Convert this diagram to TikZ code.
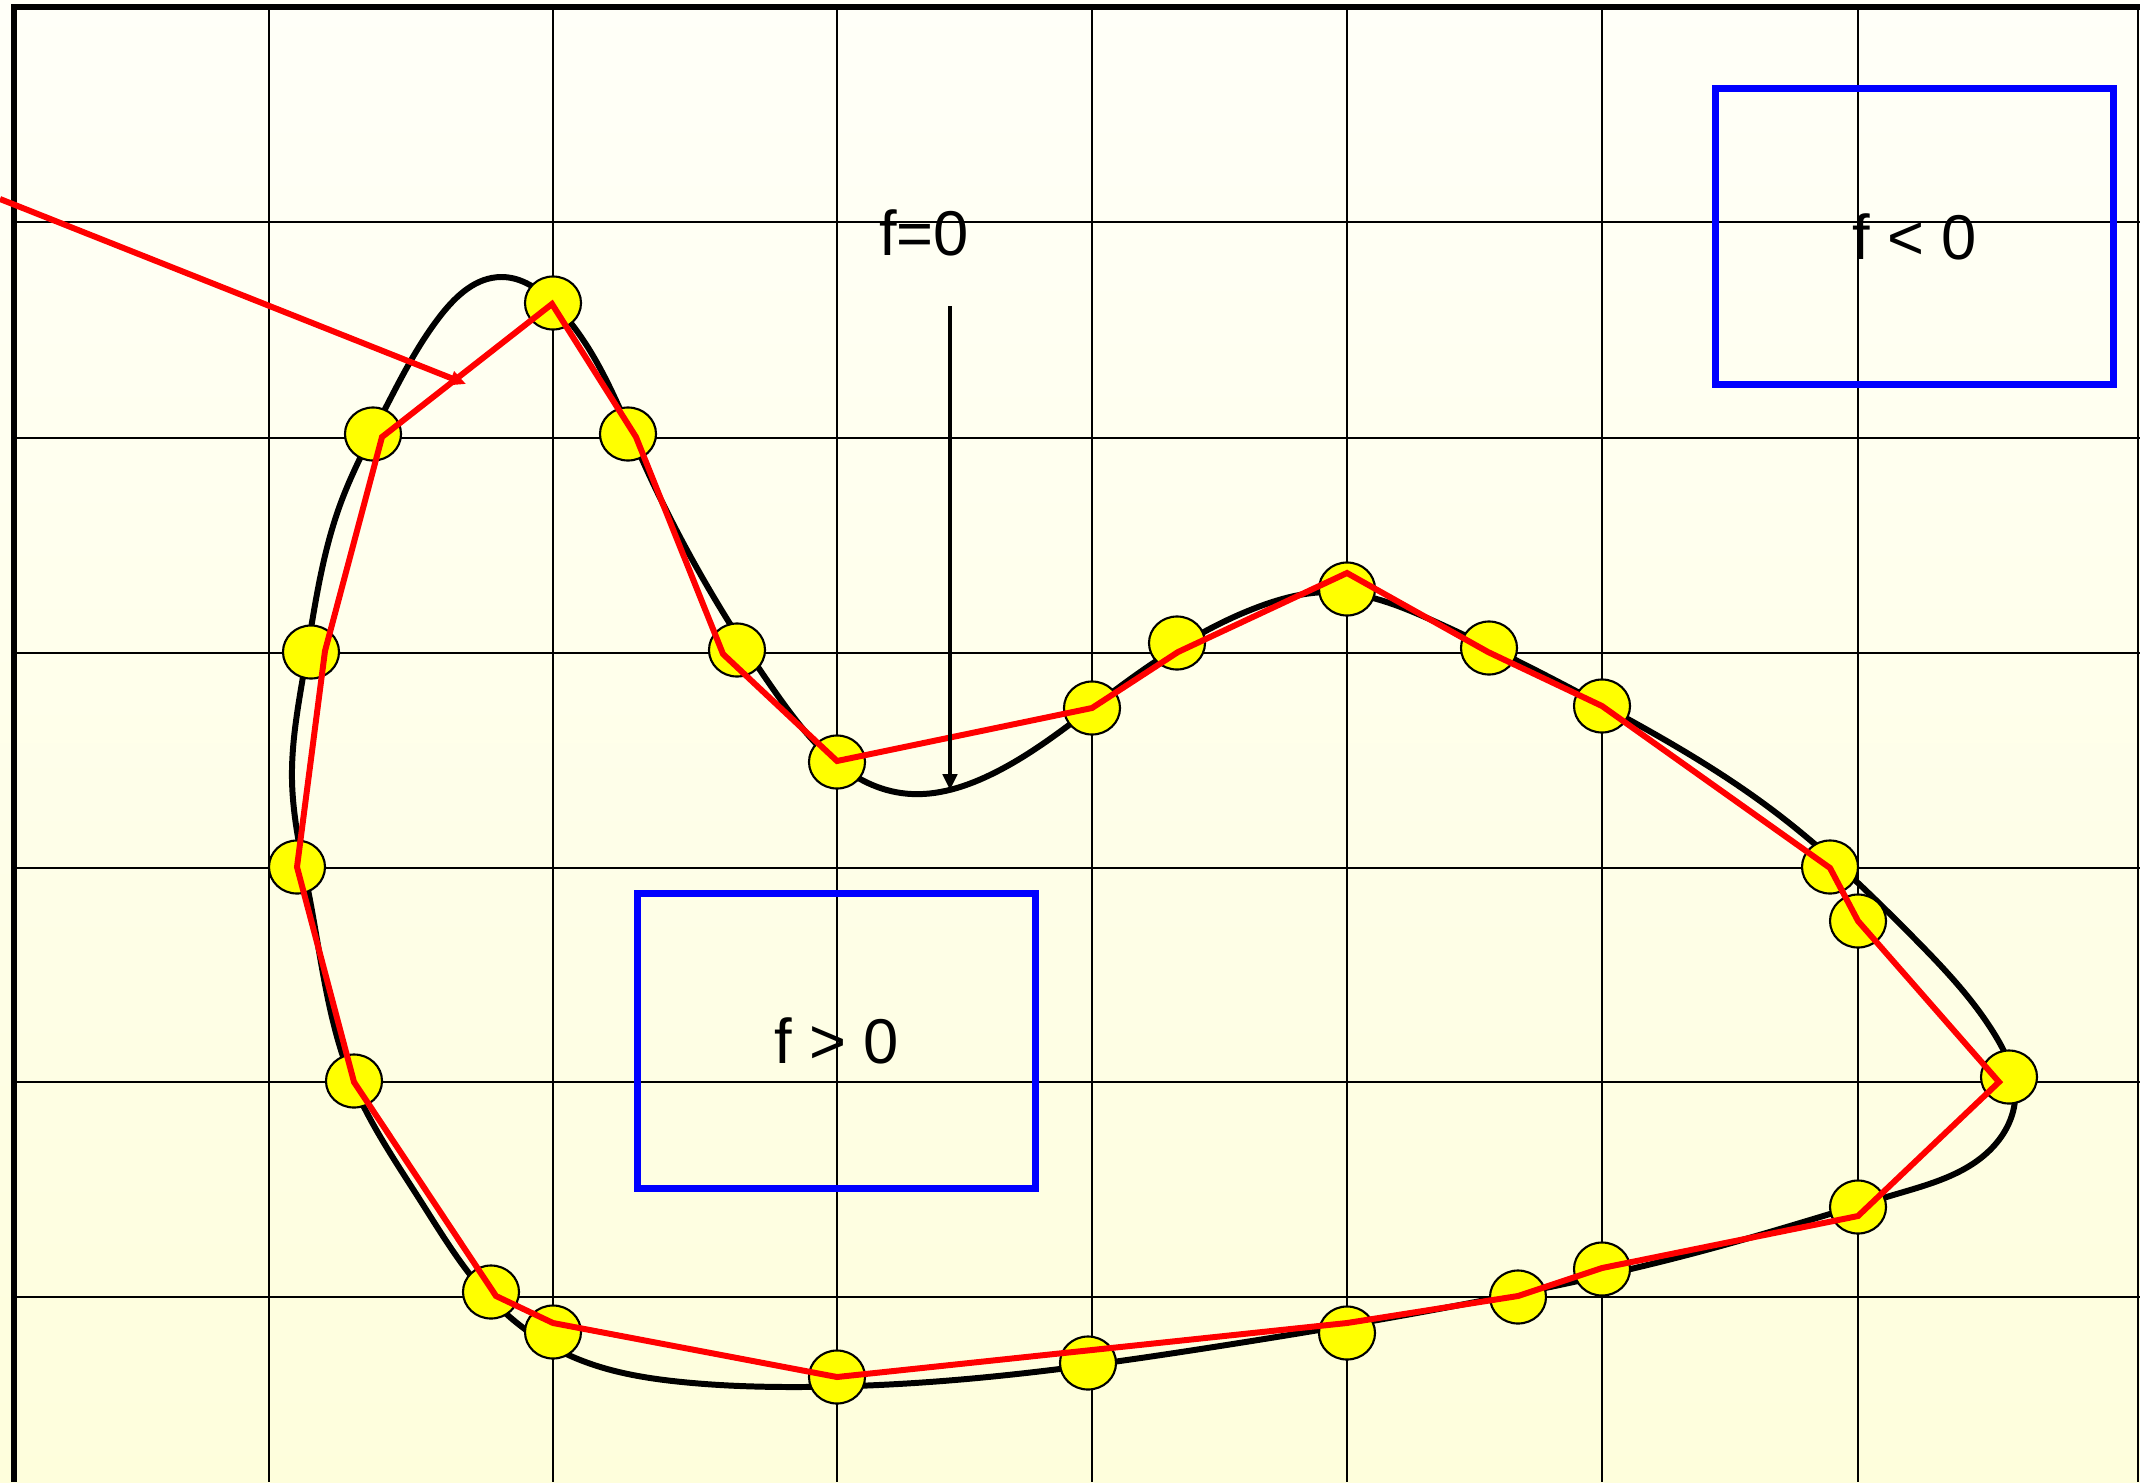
\documentclass[tikz,border=0pt]{standalone}
\usepackage{fontspec}
\setmainfont{Liberation Sans}
\usepackage{tikz}
\usetikzlibrary{arrows.meta,shapes.geometric,hobby}
\definecolor{paper}{HTML}{FFFFF8}
\definecolor{paperlow}{HTML}{FEFEDC}
\definecolor{dotfill}{HTML}{FFFF00}
\definecolor{polyred}{HTML}{FF0000}
\definecolor{zone}{HTML}{0000FF}

\begin{document}
\begin{tikzpicture}[x=0.01cm, y=-0.01cm,
  gridline/.style={black, line width=0.6pt},
  curve/.style={black, line width=1.7pt},
  sample/.style={ellipse, draw=black, line width=0.6pt, fill=dotfill,
    minimum width=0.56cm, minimum height=0.53cm, inner sep=0pt},
  polyline/.style={polyred, line width=1.7pt, line join=miter},
  zonebox/.style={draw=zone, line width=2pt, minimum width=3.97cm,
    minimum height=2.95cm, inner sep=0pt},
  lbl/.style={font=\fontsize{18}{20}\selectfont}]
\useasboundingbox (0,0) rectangle (2140,1482);
\shade[top color=paper, bottom color=paperlow] (0,0) rectangle (2140,1482);

% ---------- grid and frame
\foreach \gx in {269,553,837,1092,1347,1602,1858,2138}
  \draw[gridline] (\gx,7) -- (\gx,1482);
\foreach \gy in {222,438,653,868,1082,1297}
  \draw[gridline] (14,\gy) -- (2140,\gy);
\draw[black, line width=1.8pt] (14,1482) -- (14,7) -- (2140,7);

% ---------- the zero level set
\draw[curve, use Hobby shortcut, closed=true]
  (501,277) .. (555,305) .. (641,457) .. (778,696) .. (901,793)
  .. (990,775) .. (1110,694) .. (1258,607) .. (1330,592) .. (1436,622)
  .. (1602,705) .. (1775,812) .. (1913,937) .. (1995,1035) .. (2015,1100)
  .. (1990,1150) .. (1900,1193) .. (1706,1250) .. (1501,1297)
  .. (1220,1346) .. (955,1380) .. (800,1387) .. (682,1382) .. (573,1357)
  .. (490,1298) .. (420,1200) .. (352,1081) .. (310,900) .. (292,780)
  .. (305,665) .. (340,505) .. (384,411) .. (441,315);

% ---------- sample points
\foreach \n/\cx/\cy in {1/553/303, 2/373/434, 3/628/434, 4/311/652,
    5/737/650, 6/297/867, 7/837/762, 8/354/1081, 9/1092/708, 10/491/1292,
    11/1177/643, 12/553/1332, 13/1347/589, 14/837/1377, 15/1489/648,
    16/1088/1363, 17/1602/706, 18/1347/1333, 19/1830/867, 20/1518/1297,
    21/1858/921, 22/1602/1269, 23/2009/1077, 24/1858/1207}
  \node[sample] (s\n) at (\cx,\cy) {};

% ---------- polygon through the samples
\foreach \n/\vx/\vy in {1/552/304, 2/636/437, 3/723/654, 4/837/761,
    5/1092/708, 6/1178/652, 7/1347/573, 8/1488/652, 9/1602/706,
    10/1830/868, 11/1858/921, 12/1999/1082, 13/1858/1216, 14/1602/1268,
    15/1518/1296, 16/1347/1323, 17/837/1377, 18/553/1323, 19/496/1296,
    20/354/1082, 21/297/867, 22/325/651, 23/382/437}
  \coordinate (v\n) at (\vx,\vy);
\draw[polyline] (v1) -- (v2) -- (v3) -- (v4) -- (v5) -- (v6) -- (v7)
  -- (v8) -- (v9) -- (v10) -- (v11) -- (v12) -- (v13) -- (v14) -- (v15)
  -- (v16) -- (v17) -- (v18) -- (v19) -- (v20) -- (v21) -- (v22) -- (v23)
  -- cycle;

\coordinate (inflow) at (0,199);
\coordinate (inhit) at (466,384);
\draw[polyline, -{Triangle[length=4.5pt,width=4pt]}] (inflow) -- (inhit);

% ---------- labels
\node[lbl, anchor=base] (fzero) at (924,255) {f=0};
\coordinate (ftop) at (950,306);
\coordinate (fcurve) at (950,790);
\draw[black, line width=1.2pt, -{Triangle[length=4.5pt,width=4pt]}] (ftop) -- (fcurve);

\node[zonebox, lbl] (fneg) at (1914.5,236.5) {f < 0};
\node[zonebox, lbl] (fpos) at (836.5,1041) {f > 0};
\end{tikzpicture}
\end{document}
